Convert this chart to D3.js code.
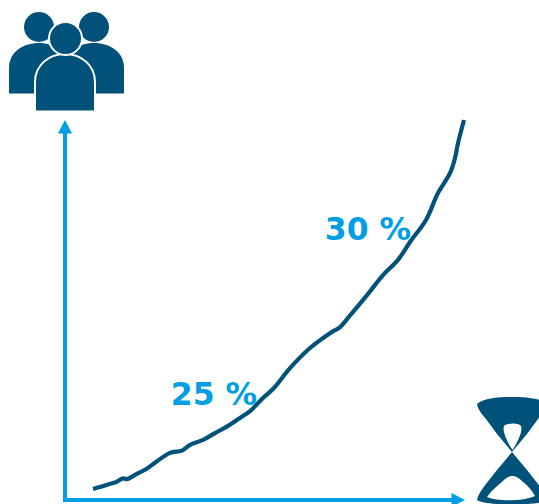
<!DOCTYPE html>
<html><head><meta charset="utf-8">
<script src="https://cdn.jsdelivr.net/npm/d3@7/dist/d3.min.js"></script>
<style>html,body{margin:0;padding:0;background:#fff;overflow:hidden}svg{display:block}</style>
</head><body><svg id="c" width="539" height="504"></svg>
<script>
const timeValues = [7,8.75,10.75,12.75,14.5,15.5,17.5,20.5,22.75,26.25,29.25,31.25,34.5,37.5,40.75,43.75,46.25,49.25,52,56.25,61.25,66.25,68.75,70.75,75.5,79.5,83.25,86.25,90.25,93.25,96.25,97.5,98.25,99.75];
const peopleValues = [2.9,3.4,4.1,4.7,5.7,5.5,6.6,8.3,10,12.4,13,14.5,15.8,17.6,19.5,21.6,23.4,26.6,29.2,34.7,40,43.9,45.5,47.9,53.9,59.2,63.2,67.9,73.7,80.8,86,90,93.9,100];
const labelTexts = ["25 %","30 %"];
const labelX = [37.25,75.75];
const labelY = [25.1,68.55];

const blue="#009fe3", dark="#00527a";
const svg=d3.select("#c");
const x=d3.scaleLinear().domain([0,100]).range([65,465]);
const y=d3.scaleLinear().domain([0,100]).range([500,120]);

// axes with arrow heads
const ax=svg.append("g");
ax.append("line").attr("x1",x(0)).attr("x2",x(0)).attr("y1",y(0)+2).attr("y2",y(0)-367).attr("stroke",blue).attr("stroke-width",4);
ax.append("line").attr("x1",x(0)-2).attr("x2",x(100)-12).attr("y1",y(0)).attr("y2",y(0)).attr("stroke",blue).attr("stroke-width",4);
ax.append("path").attr("fill",blue).attr("d",`M${x(0)},${y(100)}l7,13.5h-14z`);
ax.append("path").attr("fill",blue).attr("d",`M${x(100)},${y(0)}l-13.5,-7v14z`);

// curve
svg.append("path").datum(timeValues.map((t,i)=>[t,peopleValues[i]]))
 .attr("fill","none").attr("stroke",dark).attr("stroke-width",4.2)
 .attr("d",d3.line().x(d=>x(d[0])).y(d=>y(d[1])).curve(d3.curveCatmullRom));

// labels
svg.selectAll("text.l").data(labelTexts).join("text").attr("class","l")
 .attr("x",(d,i)=>x(labelX[i])).attr("y",(d,i)=>y(labelY[i])).attr("text-anchor","middle")
 .attr("font-family","DejaVu Sans").attr("font-weight","bold").attr("font-size",31.5).attr("fill",blue)
 .text(d=>d);

// people icon
const p=svg.append("g").attr("fill",dark);
p.append("circle").attr("cx",39).attr("cy",27).attr("r",15);
p.append("circle").attr("cx",94).attr("cy",27).attr("r",15);
p.append("path").attr("d","M9,93.5V68C9,52 23,43 39,43C55,43 69,52 69,68V93.5Z");
p.append("path").attr("d","M64,93.5V68C64,52 78,43 94,43C110,43 124,52 124,68V93.5Z");
p.append("path").attr("stroke","#fff").attr("stroke-width",2).attr("d","M35,111.5V82C35,65 49,54 65,54C81,54 95,65 95,82V111.5Z");
p.append("circle").attr("cx",65.5).attr("cy",38.5).attr("r",16.5).attr("stroke","#fff").attr("stroke-width",2);

// hourglass icon
svg.append("path").attr("fill",dark).attr("fill-rule","evenodd").attr("d",
 "M477,404C484,398 498,397 512,397C526,397 540,398 547,404C546,410 542,414 538,419L527,434L512,452L527,470L538,484C542,489 546,495 547,500C540,506 484,506 477,500C478,495 482,489 486,484L497,470L512,452L497,434L486,419C482,414 478,410 477,404Z"+
 "M505,425C510,423 516,423 520,425C524,428 519,440 512.5,450C506,440 501,428 505,425Z"+
 "M487,497C492,490 498,485 503,481C507,477 510,476 512,476C515,476 518,477 522,481C527,485 532,490 535,496C525,501 498,502 487,497Z");
</script></body></html>
